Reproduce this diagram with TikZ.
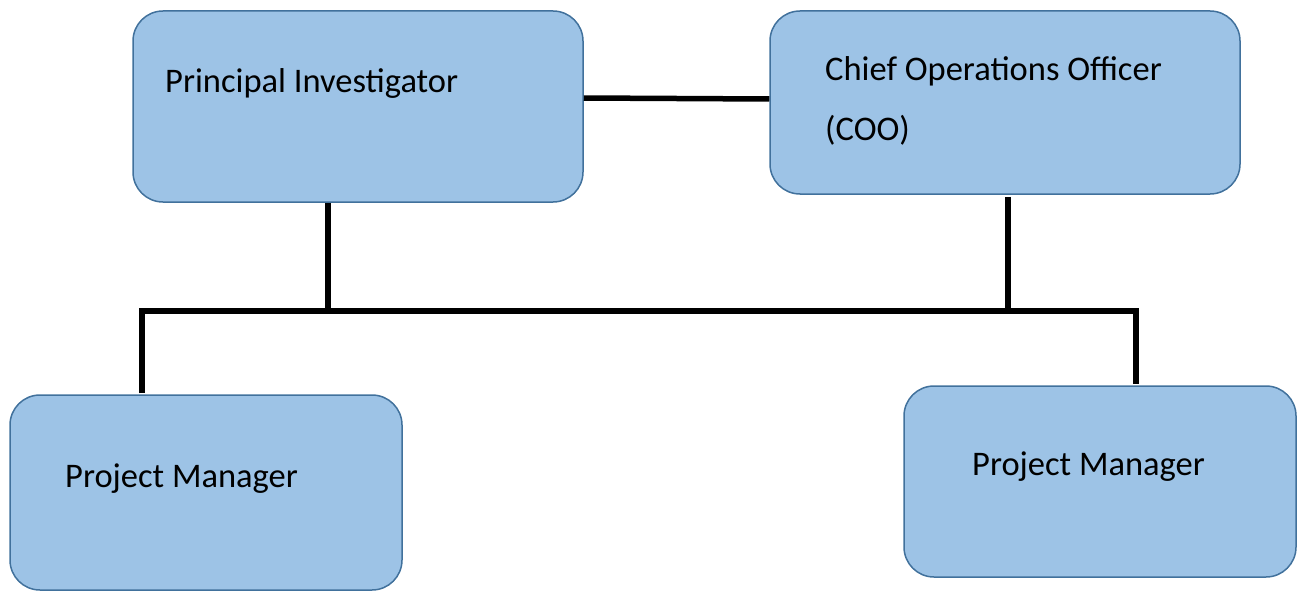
\documentclass[tikz,border=0pt]{standalone}
\usepackage{fontspec}
\setmainfont{Carlito}
\usetikzlibrary{positioning}
\definecolor{boxfill}{HTML}{9DC3E6}
\definecolor{boxline}{HTML}{41719C}

\begin{document}
\begin{tikzpicture}[x=1pt,y=-1pt,
  box/.style={draw=boxline,fill=boxfill,line width=1.5pt,rounded corners=30pt,inner sep=0pt},
  lbl/.style={anchor=base west,inner sep=0pt,font=\fontsize{34.5}{40}\selectfont},
  conn/.style={line width=5.5pt}]
\useasboundingbox (0,0) rectangle (1297,591);
% boxes
\node[box,minimum width=450pt,minimum height=191pt] (pi) at (358,106.5) {};
\node[box,minimum width=470pt,minimum height=183pt] (coo) at (1005,102.5) {};
\node[box,minimum width=392pt,minimum height=195pt] (pm1) at (206,492.5) {};
\node[box,minimum width=392pt,minimum height=191pt] (pm2) at (1100,481.5) {};
% labels
\node[lbl] (pitext) at (165,93) {Principal Investigator};
\node[lbl] (cootext) at (825,81) {Chief Operations Officer};
\node[lbl] (cooabbr) at (825,140) {(COO)};
\node[lbl] (pm1text) at (65,487) {Project Manager};
\node[lbl] (pm2text) at (972,475) {Project Manager};
% connectors
\coordinate (piDrop) at (328,311);
\coordinate (cooDrop) at (1008,311);
\coordinate (pmL) at (142,311);
\coordinate (pmR) at (1136,311);
\draw[conn] ([yshift=8.5pt]pi.east) -- ([yshift=3.5pt]coo.west);
\draw[conn] (pi.south -| piDrop) -- (piDrop);
\draw[conn] ([yshift=-2pt]coo.south -| cooDrop) -- (cooDrop);
\draw[conn] ([yshift=1pt]pm1.north -| pmL) -- (pmL) -- (pmR) -- ([yshift=1pt]pm2.north -| pmR);
\end{tikzpicture}
\end{document}
